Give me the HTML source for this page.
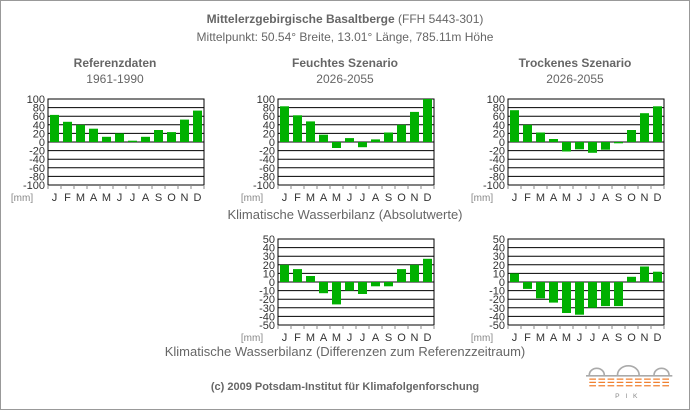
<!DOCTYPE html><html><head><style>body{margin:0}svg{display:block}text{font-family:"Liberation Sans",sans-serif}</style></head><body>
<svg width="690" height="410" xmlns="http://www.w3.org/2000/svg">
<defs>
<g id="gt"><rect x="0" y="-43" width="156" height="86" fill="#fff" stroke="#000"/>
<path d="M0-34.4h156M0-25.8h156M0-17.2h156M0-8.6h156M0 0h156M0 8.6h156M0 17.2h156M0 25.8h156M0 34.4h156" stroke="#000" stroke-width="1"/>
<path d="M0 43v4M13 43v4M26 43v4M39 43v4M52 43v4M65 43v4M78 43v4M91 43v4M104 43v4M117 43v4M130 43v4M143 43v4M156 43v4" stroke="#888"/>
<g font-size="11" fill="#333" text-anchor="middle"><text x="6.5" y="59">J</text><text x="19.5" y="59">F</text><text x="32.5" y="59">M</text><text x="45.5" y="59">A</text><text x="58.5" y="59">M</text><text x="71.5" y="59">J</text><text x="84.5" y="59">J</text><text x="97.5" y="59">A</text><text x="110.5" y="59">S</text><text x="123.5" y="59">O</text><text x="136.5" y="59">N</text><text x="149.5" y="59">D</text></g>
<text x="-26" y="59" font-size="10" fill="#888" text-anchor="middle">[mm]</text>
</g>
<g id="l100" font-size="11" fill="#333" text-anchor="end"><text x="-3" y="-39">100</text><text x="-3" y="-30.4">80</text><text x="-3" y="-21.8">60</text><text x="-3" y="-13.2">40</text><text x="-3" y="-4.6">20</text><text x="-3" y="4">0</text><text x="-3" y="12.6">-20</text><text x="-3" y="21.2">-40</text><text x="-3" y="29.8">-60</text><text x="-3" y="38.4">-80</text><text x="-3" y="47">-100</text></g>
<g id="l50" font-size="11" fill="#333" text-anchor="end"><text x="-3" y="-39">50</text><text x="-3" y="-30.4">40</text><text x="-3" y="-21.8">30</text><text x="-3" y="-13.2">20</text><text x="-3" y="-4.6">10</text><text x="-3" y="4">0</text><text x="-3" y="12.6">-10</text><text x="-3" y="21.2">-20</text><text x="-3" y="29.8">-30</text><text x="-3" y="38.4">-40</text><text x="-3" y="47">-50</text></g>
</defs>
<rect x="0.5" y="0.5" width="689" height="409" fill="#fff" stroke="#999"/>
<g text-anchor="middle" fill="#666">
<text x="345" y="23" font-size="12"><tspan font-weight="bold">Mittelerzgebirgische Basaltberge</tspan> (FFH 5443-301)</text>
<text x="345" y="41" font-size="12">Mittelpunkt: 50.54° Breite, 13.01° Länge, 785.11m Höhe</text>
<text x="115" y="67" font-size="12" font-weight="bold">Referenzdaten</text><text x="115" y="83" font-size="12">1961-1990</text>
<text x="345" y="67" font-size="12" font-weight="bold">Feuchtes Szenario</text><text x="345" y="83" font-size="12">2026-2055</text>
<text x="575" y="67" font-size="12" font-weight="bold">Trockenes Szenario</text><text x="575" y="83" font-size="12">2026-2055</text>
<text x="345" y="219" font-size="13">Klimatische Wasserbilanz (Absolutwerte)</text>
<text x="345" y="356" font-size="13">Klimatische Wasserbilanz (Differenzen zum Referenzzeitraum)</text>
<text x="345" y="390" font-size="11" font-weight="bold">(c) 2009 Potsdam-Institut für Klimafolgenforschung</text>
</g>
<g transform="translate(48,142)"><use href="#gt"/><use href="#l100"/><g fill="#00b000">
<rect x="2" y="-27.1" width="9" height="27.1"/><rect x="15" y="-20.2" width="9" height="20.2"/><rect x="28" y="-17.2" width="9" height="17.2"/><rect x="41" y="-13.3" width="9" height="13.3"/><rect x="54" y="-5.2" width="9" height="5.2"/><rect x="67" y="-8.6" width="9" height="8.6"/><rect x="80" y="-1.3" width="9" height="1.3"/><rect x="93" y="-5.2" width="9" height="5.2"/><rect x="106" y="-12" width="9" height="12"/><rect x="119" y="-9.9" width="9" height="9.9"/><rect x="132" y="-22.4" width="9" height="22.4"/><rect x="145" y="-31.4" width="9" height="31.4"/></g></g>
<g transform="translate(278,142)"><use href="#gt"/><use href="#l100"/><g fill="#00b000">
<rect x="2" y="-35.7" width="9" height="35.7"/><rect x="15" y="-26.7" width="9" height="26.7"/><rect x="28" y="-20.6" width="9" height="20.6"/><rect x="41" y="-7.3" width="9" height="7.3"/><rect x="54" y="0" width="9" height="6"/><rect x="67" y="-3.9" width="9" height="3.9"/><rect x="80" y="0" width="9" height="5.2"/><rect x="93" y="-2.6" width="9" height="2.6"/><rect x="106" y="-9.5" width="9" height="9.5"/><rect x="119" y="-17.2" width="9" height="17.2"/><rect x="132" y="-30.1" width="9" height="30.1"/><rect x="145" y="-43" width="9" height="43"/></g></g>
<g transform="translate(508,142)"><use href="#gt"/><use href="#l100"/><g fill="#00b000">
<rect x="2" y="-31.8" width="9" height="31.8"/><rect x="15" y="-17.2" width="9" height="17.2"/><rect x="28" y="-9.5" width="9" height="9.5"/><rect x="41" y="-3" width="9" height="3"/><rect x="54" y="0" width="9" height="9.5"/><rect x="67" y="0" width="9" height="7.3"/><rect x="80" y="0" width="9" height="10.8"/><rect x="93" y="0" width="9" height="7.7"/><rect x="106" y="0" width="9" height="1.3"/><rect x="119" y="-12" width="9" height="12"/><rect x="132" y="-28.8" width="9" height="28.8"/><rect x="145" y="-35.7" width="9" height="35.7"/></g></g>
<g transform="translate(278,282)"><use href="#gt"/><use href="#l50"/><g fill="#00b000">
<rect x="2" y="-17.2" width="9" height="17.2"/><rect x="15" y="-12.9" width="9" height="12.9"/><rect x="28" y="-6" width="9" height="6"/><rect x="41" y="0" width="9" height="11.2"/><rect x="54" y="0" width="9" height="22.4"/><rect x="67" y="0" width="9" height="8.6"/><rect x="80" y="0" width="9" height="12"/><rect x="93" y="0" width="9" height="4.3"/><rect x="106" y="0" width="9" height="4.3"/><rect x="119" y="-12.9" width="9" height="12.9"/><rect x="132" y="-17.2" width="9" height="17.2"/><rect x="145" y="-23.2" width="9" height="23.2"/></g></g>
<g transform="translate(508,282)"><use href="#gt"/><use href="#l50"/><g fill="#00b000">
<rect x="2" y="-8.6" width="9" height="8.6"/><rect x="15" y="0" width="9" height="6.9"/><rect x="28" y="0" width="9" height="16.3"/><rect x="41" y="0" width="9" height="20.6"/><rect x="54" y="0" width="9" height="31"/><rect x="67" y="0" width="9" height="32.7"/><rect x="80" y="0" width="9" height="25.8"/><rect x="93" y="0" width="9" height="24.1"/><rect x="106" y="0" width="9" height="24.1"/><rect x="119" y="-5.2" width="9" height="5.2"/><rect x="132" y="-15.5" width="9" height="15.5"/><rect x="145" y="-10.3" width="9" height="10.3"/></g></g>
<g transform="translate(586,365) scale(0.83)">
<path d="M4 12a9 8 0 0 1 18 0M38 12a13 11 0 0 1 26 0M82 12a9 8 0 0 1 18 0" fill="none" stroke="#aaa" stroke-width="2"/>
<path d="M0 13h104" stroke="#aaa" stroke-width="2"/>
<path d="M4 17h96M4 21h96M4 25h96" stroke="#f08030" stroke-width="1.5" stroke-dasharray="8 3"/>
<text x="52" y="40" font-size="8" fill="#888" text-anchor="middle" letter-spacing="7">PIK</text>
</g>
</svg></body></html>
